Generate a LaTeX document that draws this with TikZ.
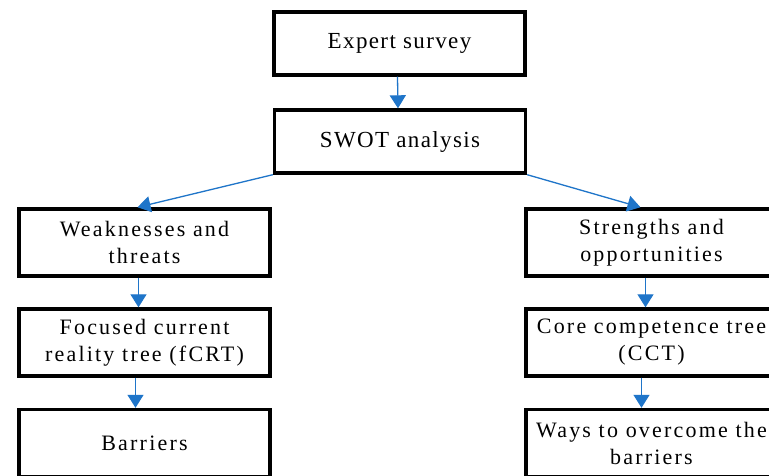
\documentclass[tikz,border=0pt]{standalone}
\usepackage{fontspec}
\setmainfont{Liberation Serif}
\newfontfamily\topfont[LetterSpace=6]{Liberation Serif}
\newfontfamily\lowfont[LetterSpace=10]{Liberation Serif}
\usetikzlibrary{arrows.meta}
\definecolor{arrowblue}{RGB}{31,117,201}
\tikzset{
  box/.style={draw=black, line width=3.4pt, rectangle, align=center, inner sep=0pt},
  topbox/.style={box, minimum width=251pt, minimum height=63pt, font=\topfont\fontsize{23}{27}\selectfont},
  lowbox/.style={box, minimum width=251pt, minimum height=67pt, font=\lowfont\fontsize{22}{27}\selectfont},
  flow/.style={draw=arrowblue, line width=1.3pt, -{Triangle[width=16pt,length=13pt]}, fill=arrowblue}
}
\begin{document}
\begin{tikzpicture}[x=1pt,y=-1pt]
\useasboundingbox (0,0) rectangle (769,475);
\clip (0,0) rectangle (769,475);
\fill[white] (0,0) rectangle (769,475);
\node[topbox] (es) at (399.5,43.5) {Expert survey};
\node[topbox] (swot) at (400,141.5) {SWOT analysis};
\node[lowbox] (wt) at (144.5,242.5) {Weaknesses and\\threats};
\node[lowbox] (fcrt) at (144.5,342.5) {Focused current\\reality tree (fCRT)};
\node[lowbox] (bar) at (144.5,443) {Barriers};
\node[lowbox] (so) at (651.5,242.5) {Strengths and\\opportunities};
\node[lowbox] (cct) at (651.5,342.5) {Core competence tree\\(CCT)};
\node[lowbox] (ways) at (651.5,443) {Ways to overcome the\\barriers};
\draw[flow] ([xshift=-2pt]es.south) -- ([xshift=-2pt]swot.north);
\draw[flow] (swot.south west) -- ([xshift=-7pt]wt.north);
\draw[flow] (swot.south east) -- ([xshift=-11pt]so.north);
\draw[flow] ([xshift=-6pt]wt.south) -- ([xshift=-6pt]fcrt.north);
\draw[flow] ([xshift=-9pt]fcrt.south) -- ([xshift=-9pt]bar.north);
\draw[flow] ([xshift=-6pt]so.south) -- ([xshift=-6pt]cct.north);
\draw[flow] ([xshift=-10pt]cct.south) -- ([xshift=-10pt]ways.north);
\end{tikzpicture}
\end{document}
